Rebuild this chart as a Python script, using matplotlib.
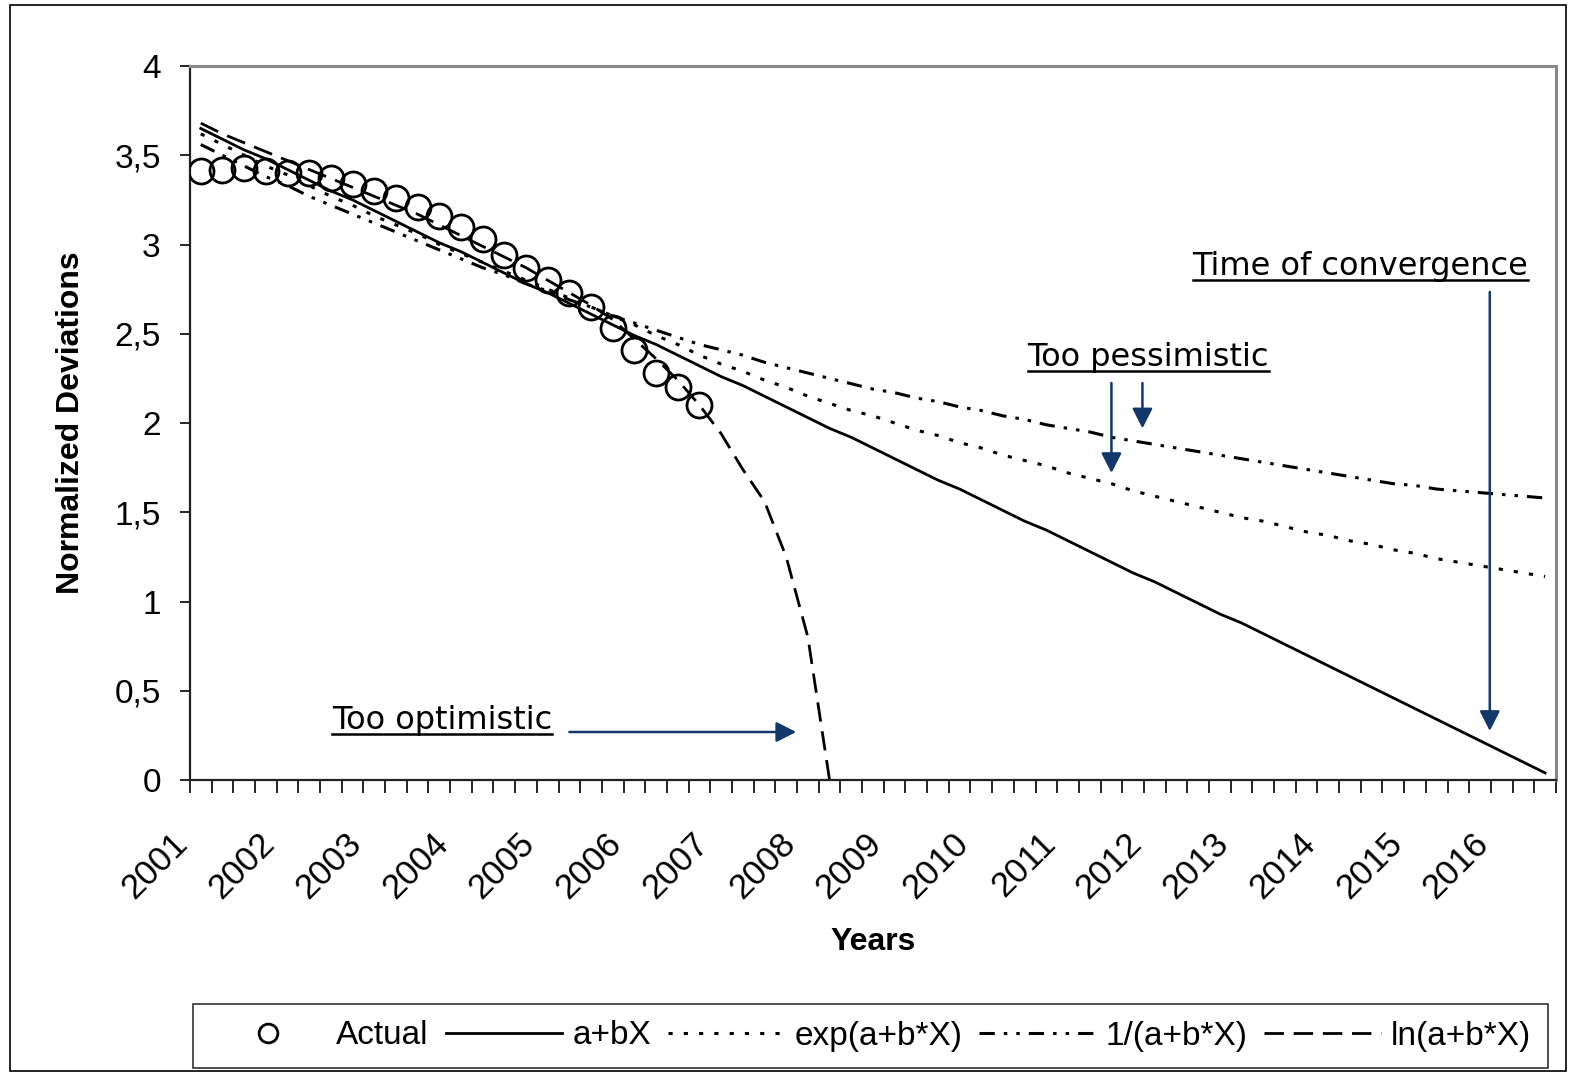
import matplotlib
matplotlib.use("Agg")
import matplotlib.pyplot as plt
import numpy as np
from matplotlib.lines import Line2D
from matplotlib.patches import Rectangle
from matplotlib.transforms import ScaledTranslation

plt.rcParams['font.family'] = ['Liberation Sans', 'DejaVu Sans']
plt.rcParams['lines.scale_dashes'] = False

# ---- data ----
years = [str(y) for y in range(2001, 2017)]
n_quarters = 63

actual = [3.41, 3.42, 3.43, 3.41, 3.40, 3.40, 3.37, 3.34, 3.30, 3.26,
          3.21, 3.16, 3.10, 3.03, 2.94, 2.87, 2.80, 2.73, 2.65, 2.53,
          2.41, 2.28, 2.20, 2.10]

linear = [3.65, 3.59, 3.53, 3.48, 3.42, 3.36, 3.30, 3.25, 3.19, 3.13,
          3.07, 3.01, 2.96, 2.90, 2.84, 2.78, 2.73, 2.67, 2.61, 2.55,
          2.49, 2.44, 2.38, 2.32, 2.26, 2.21, 2.15, 2.09, 2.03, 1.97,
          1.92, 1.86, 1.80, 1.74, 1.68, 1.63, 1.57, 1.51, 1.45, 1.40,
          1.34, 1.28, 1.22, 1.16, 1.11, 1.05, 0.99, 0.93, 0.88, 0.82,
          0.76, 0.70, 0.64, 0.58, 0.52, 0.46, 0.40, 0.34, 0.28, 0.22,
          0.16, 0.10, 0.04]

expo = [3.62, 3.56, 3.50, 3.44, 3.39, 3.33, 3.27, 3.22, 3.16, 3.11,
        3.06, 3.00, 2.95, 2.90, 2.85, 2.80, 2.75, 2.70, 2.65, 2.60,
        2.55, 2.49, 2.44, 2.38, 2.33, 2.29, 2.24, 2.20, 2.15, 2.11,
        2.07, 2.04, 2.00, 1.96, 1.93, 1.89, 1.86, 1.82, 1.79, 1.76,
        1.72, 1.69, 1.66, 1.62, 1.59, 1.56, 1.53, 1.50, 1.47, 1.45,
        1.42, 1.39, 1.37, 1.34, 1.32, 1.29, 1.27, 1.24, 1.22, 1.20,
        1.18, 1.16, 1.14]

inverse = [3.56, 3.50, 3.44, 3.38, 3.33, 3.27, 3.22, 3.17, 3.12, 3.07,
           3.02, 2.97, 2.92, 2.87, 2.83, 2.78, 2.74, 2.69, 2.65, 2.60,
           2.56, 2.52, 2.48, 2.44, 2.41, 2.38, 2.34, 2.31, 2.28, 2.25,
           2.22, 2.19, 2.17, 2.14, 2.12, 2.09, 2.07, 2.04, 2.02, 1.99,
           1.97, 1.95, 1.92, 1.90, 1.88, 1.86, 1.84, 1.82, 1.80, 1.78,
           1.76, 1.74, 1.72, 1.70, 1.68, 1.66, 1.65, 1.63, 1.62, 1.61,
           1.60, 1.59, 1.58]

logfit = [3.68, 3.62, 3.57, 3.52, 3.47, 3.42, 3.37, 3.32, 3.27, 3.22,
          3.17, 3.11, 3.05, 2.99, 2.93, 2.87, 2.80, 2.73, 2.66, 2.58,
          2.47, 2.36, 2.24, 2.10, 1.94, 1.74, 1.56, 1.25, 0.80, 0.00]

ytick_vals = [0, 0.5, 1, 1.5, 2, 2.5, 3, 3.5, 4]
ytick_labels = ['0', '0,5', '1', '1,5', '2', '2,5', '3', '3,5', '4']

navy = '#12386b'

fig = plt.figure(figsize=(15.71, 10.75), dpi=100)
ax = fig.add_axes([0.1209, 0.2744, 0.8695, 0.6642])

q = np.arange(n_quarters)
l_act, = ax.plot(q[:len(actual)], actual, 'o', ms=18, mfc='none', mec='black',
                 mew=2.0, zorder=5)
l_lin, = ax.plot(q, linear, '-', color='black', lw=2.0)
l_exp, = ax.plot(q, expo, color='black', lw=2.2, ls=(0, (3, 8)))
l_inv, = ax.plot(q, inverse, color='black', lw=2.2,
                 ls=(0, (11, 6.5, 2.5, 6.5, 2.5, 6.5)))
l_log, = ax.plot(q[:len(logfit)], logfit, color='black', lw=2.0, ls=(0, (14, 7)))

ax.set_xlim(-0.5, n_quarters - 0.5)
ax.set_ylim(0, 4)

# axis styling
for side in ['top', 'right']:
    ax.spines[side].set_color('#888888')
    ax.spines[side].set_linewidth(2.2)
for side in ['left', 'bottom']:
    ax.spines[side].set_color('#222222')
    ax.spines[side].set_linewidth(1.6)

ax.set_yticks(ytick_vals, ytick_labels)
ax.tick_params(axis='y', direction='out', length=7, width=1.2, pad=14,
               labelsize=24)

label_pos = np.arange(0, 4 * len(years), 4)
ax.set_xticks(label_pos, years)
ax.set_xticks(np.arange(-0.5, n_quarters, 1), minor=True)
ax.tick_params(axis='x', which='major', length=0, pad=42, labelsize=25)
ax.tick_params(axis='x', which='minor', direction='out', length=9, width=1.2)
shift = ScaledTranslation(-18 / 100, 0, fig.dpi_scale_trans)
for lab in ax.get_xticklabels():
    lab.set_rotation(45)
    lab.set_rotation_mode('anchor')
    lab.set_ha('right')
    lab.set_va('center')
    lab.set_transform(lab.get_transform() + shift)

ax.set_xlabel('Years', fontsize=23, fontweight='bold', labelpad=16)
ax.set_ylabel('Normalized Deviations', fontsize=23, fontweight='bold',
              labelpad=20)

# annotations
notes = [
    ('Too optimistic', 6.05, 0.286),
    ('Too pessimistic', 38.13, 2.32),
    ('Time of convergence', 45.74, 2.83),
]
note_texts = []
for s, x, y in notes:
    t = ax.text(x, y, s, fontsize=23, family='DejaVu Sans', ha='left',
                va='baseline', color='black')
    note_texts.append(t)

arrows = [
    ((17.0, 0.269), (27.46, 0.269)),
    ((42.0, 2.224), (42.0, 1.72)),
    ((43.43, 2.224), (43.43, 1.97)),
    ((59.45, 2.734), (59.45, 0.275)),
]
for start, tip in arrows:
    ax.annotate('', xy=tip, xytext=start,
                arrowprops=dict(arrowstyle='-|>,head_length=0.55,head_width=0.28',
                                color=navy, lw=1.8, mutation_scale=22,
                                shrinkA=0, shrinkB=0))

# legend
leg = fig.legend([l_act, l_lin, l_exp, l_inv, l_log],
                 ['Actual', 'a+bX', 'exp(a+b*X)', '1/(a+b*X)', 'ln(a+b*X)'],
                 loc='center', ncol=5, mode='expand', borderaxespad=0,
                 bbox_to_anchor=(193 / 1571, 1 - 1067 / 1075, 1355 / 1571, 62 / 1075),
                 fontsize=24, frameon=True, fancybox=False, edgecolor='black',
                 handlelength=3.5, handletextpad=0.3, columnspacing=0.5,
                 markerscale=0.75, borderpad=0.5)
leg.get_frame().set_linewidth(1.2)

# outer chart border
fig.add_artist(Rectangle((10 / 1571, 1 - 1071 / 1075), 1556 / 1571, 1066 / 1075,
                         transform=fig.transFigure, fill=False,
                         edgecolor='black', lw=1.2))

# underline the annotation texts
fig.canvas.draw()
inv = fig.transFigure.inverted()
for t in note_texts:
    bb = t.get_window_extent()
    base = ax.transData.transform(t.get_position())[1]
    p0 = inv.transform((bb.x0, base - 5))
    p1 = inv.transform((bb.x1, base - 5))
    fig.add_artist(Line2D([p0[0], p1[0]], [p0[1], p1[1]],
                          transform=fig.transFigure, color='black', lw=1.8))

fig.savefig('out.png', dpi=100)
